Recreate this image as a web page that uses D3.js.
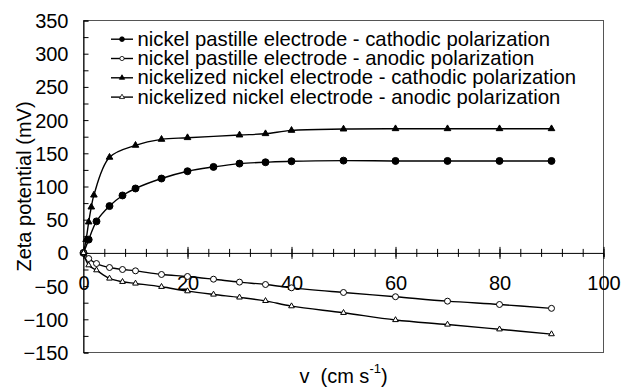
<!DOCTYPE html>
<html>
<head>
<meta charset="utf-8">
<script src="https://cdn.jsdelivr.net/npm/d3@7/dist/d3.min.js"></script>
<style>
  body { margin: 0; background: #fff; }
  text { font-family: "Liberation Sans", Arial, sans-serif; fill: #000; }
</style>
</head>
<body>
<svg id="chart" width="621" height="387"></svg>
<script>
// velocities (cm s-1)
const vPastille = [0, 1, 2.5, 5, 7.5, 10, 15, 20, 25, 30, 35, 40, 50, 60, 70, 80, 90];
const vNickelizedCath = [0, 0.5, 1, 1.5, 2, 5, 10, 15, 20, 30, 35, 40, 50, 60, 70, 80, 90];
const vNickelizedAnod = [0, 1, 2.5, 5, 7.5, 10, 15, 20, 25, 30, 35, 40, 50, 60, 70, 80, 90];

// zeta potential (mV)
const pastilleCathodic = [0, 20, 47.5, 70.5, 86.5, 97, 112, 123, 129.5, 134.5, 136.5, 138, 139, 138.5, 138.5, 138.5, 138.5];
const pastilleAnodic = [0, -8.5, -16, -22, -25, -27, -32.5, -35.5, -39.6, -44, -47.6, -52.6, -59.6, -66, -72.7, -77.7, -83.5];
const nickelizedCathodic = [0, 20, 46.5, 69, 87, 144, 162, 171, 173.5, 177.5, 179.5, 184.5, 186.5, 187, 187, 187, 187];
const nickelizedAnodic = [0, -18.5, -26, -38.5, -43.5, -46, -51, -57.6, -62.6, -67, -72.2, -80.2, -90.2, -101, -107.8, -115, -122.3];

const seriesNames = [
  "nickel pastille electrode - cathodic polarization",
  "nickel pastille electrode - anodic polarization",
  "nickelized nickel electrode - cathodic polarization",
  "nickelized nickel electrode - anodic polarization"
];

const xMajorTicks = [0, 20, 40, 60, 80, 100];
const yLabelTicks = [-150, -100, -50, 0, 50, 100, 150, 200, 250, 300, 350];

const series = [
  { name: seriesNames[0], v: vPastille, z: pastilleCathodic, shape: d3.symbolCircle, fill: "#000", size: 38, legendSize: 18 },
  { name: seriesNames[1], v: vPastille, z: pastilleAnodic, shape: d3.symbolCircle, fill: "#fff", size: 28, legendSize: 14 },
  { name: seriesNames[2], v: vNickelizedCath, z: nickelizedCathodic, shape: d3.symbolTriangle, fill: "#000", size: 19, legendSize: 12 },
  { name: seriesNames[3], v: vNickelizedAnod, z: nickelizedAnodic, shape: d3.symbolTriangle, fill: "#fff", size: 14, legendSize: 11 }
];

const svg = d3.select("#chart");
const fontSize = 20;

const x = d3.scaleLinear().domain([0, 100]).range([83.5, 603.5]);
const y = d3.scaleLinear().domain([-150, 350]).range([352.5, 20.5]);

// plot border
svg.append("rect")
  .attr("x", x(0)).attr("y", y(350))
  .attr("width", x(100) - x(0)).attr("height", y(-150) - y(350))
  .attr("fill", "none").attr("stroke", "#555").attr("stroke-width", 1);

// y axis: ticks inside every 25
const yTicks = svg.append("g")
  .attr("transform", `translate(${x(0)},0)`)
  .call(d3.axisRight(y).tickValues(d3.range(-150, 351, 25)).tickSize(5).tickFormat(""));
yTicks.select(".domain").attr("stroke", "#000");
yTicks.selectAll("line").attr("stroke", "#000");

// y labels
const yLabels = svg.append("g")
  .attr("transform", `translate(${x(0)},0)`)
  .call(d3.axisLeft(y).tickValues(yLabelTicks).tickSize(0).tickPadding(15));
yLabels.select(".domain").remove();
yLabels.selectAll("text")
  .attr("font-size", fontSize).attr("font-family", "Liberation Sans, Arial, sans-serif")
  .attr("dy", "0.35em");

// x axis at zero, crossing ticks
const xAxisMinor = svg.append("g")
  .attr("transform", `translate(0,${y(0)})`)
  .call(d3.axisBottom(x).tickValues(d3.range(0, 101, 4)).tickSize(4).tickFormat(""));
xAxisMinor.select(".domain").attr("stroke", "#000");
xAxisMinor.selectAll("line").attr("y1", -4).attr("y2", 4).attr("stroke", "#000");

const xAxis = svg.append("g")
  .attr("transform", `translate(0,${y(0)})`)
  .call(d3.axisBottom(x).tickValues(xMajorTicks).tickSize(5.5).tickPadding(17.5));
xAxis.select(".domain").remove();
xAxis.selectAll("line").attr("y1", -6).attr("y2", 6).attr("stroke", "#000");
xAxis.selectAll("text")
  .attr("font-size", fontSize).attr("font-family", "Liberation Sans, Arial, sans-serif");

// series
const line = d3.line()
  .x(d => x(d[0]))
  .y(d => y(d[1]))
  .curve(d3.curveCatmullRom.alpha(0.5));

series.forEach(s => {
  const pts = s.v.map((v, i) => [v, s.z[i]]);
  svg.append("path")
    .attr("d", line(pts))
    .attr("fill", "none").attr("stroke", "#000").attr("stroke-width", 1.4);
  svg.append("g").selectAll("path")
    .data(pts)
    .join("path")
    .attr("transform", d => `translate(${x(d[0])},${y(d[1])})`)
    .attr("d", d3.symbol(s.shape, s.size))
    .attr("fill", s.fill).attr("stroke", "#000").attr("stroke-width", 1);
});

// legend
const legend = svg.append("g");
series.forEach((s, i) => {
  const base = 45.7 + i * 19.3;
  const cy = base - 6.5;
  legend.append("line")
    .attr("x1", 111).attr("x2", 133).attr("y1", cy).attr("y2", cy)
    .attr("stroke", "#000").attr("stroke-width", 1.4);
  legend.append("path")
    .attr("transform", `translate(122,${cy})`)
    .attr("d", d3.symbol(s.shape, s.legendSize))
    .attr("fill", s.fill).attr("stroke", "#000").attr("stroke-width", 0.8);
  legend.append("text")
    .attr("x", 137.5).attr("y", base)
    .attr("font-size", 20.3)
    .text(s.name);
});

// axis titles
svg.append("text")
  .attr("transform", `translate(31,${(y(350) + y(-150)) / 2}) rotate(-90)`)
  .attr("text-anchor", "middle")
  .attr("font-size", fontSize)
  .text("Zeta potential (mV)");

const xTitle = svg.append("text")
  .attr("x", (x(0) + x(100)) / 2)
  .attr("y", 382.5)
  .attr("text-anchor", "middle")
  .attr("font-size", fontSize);
xTitle.append("tspan").text("v\u00a0\u00a0(cm s");
xTitle.append("tspan").attr("dy", -10).attr("font-size", 13).text("-1");
xTitle.append("tspan").attr("dy", 10).text(")");
</script>
</body>
</html>
